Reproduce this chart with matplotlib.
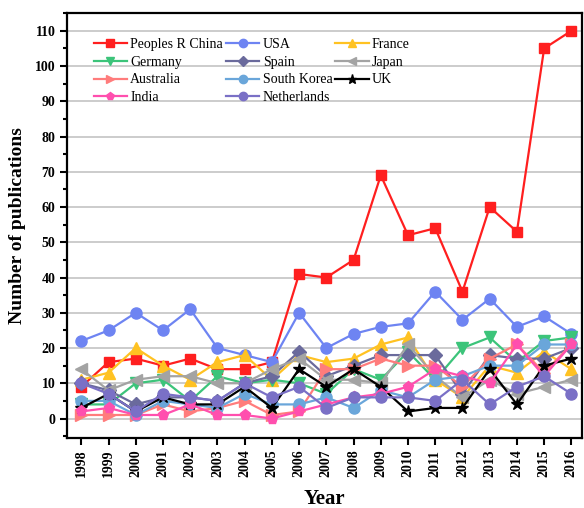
import numpy as np
import matplotlib
matplotlib.use("Agg")
from matplotlib import pyplot as plt
from matplotlib.ticker import MultipleLocator

# publications per country and year
years = list(range(1998, 2017))

china = [9, 16, 17, 15, 17, 14, 14, 16, 41, 40, 45, 69, 52, 54, 36, 60, 53, 105, 110]
usa = [22, 25, 30, 25, 31, 20, 18, 16, 30, 20, 24, 26, 27, 36, 28, 34, 26, 29, 24]
france = [11, 13, 20, 15, 11, 16, 18, 11, 18, 16, 17, 21, 23, 11, 6, 15, 13, 19, 14]
germany = [4, 4, 10, 11, 5, 12, 10, 11, 10, 7, 14, 11, 19, 11, 20, 23, 16, 22, 23]
spain = [10, 8, 4, 6, 6, 5, 10, 12, 19, 12, 15, 18, 18, 18, 7, 18, 17, 17, 20]
japan = [14, 8, 11, 12, 12, 10, 10, 14, 17, 11, 11, 10, 21, 12, 6, 11, 7, 9, 11]
australia = [1, 1, 1, 4, 2, 3, 5, 1, 2, 14, 14, 17, 15, 15, 9, 17, 21, 13, 21]
south_korea = [5, 5, 1, 5, 4, 3, 7, 4, 4, 6, 3, 8, 6, 11, 12, 15, 15, 21, 21]
uk = [3, 7, 2, 6, 4, 4, 9, 3, 14, 9, 14, 9, 2, 3, 3, 14, 4, 15, 17]
india = [2, 3, 1, 1, 4, 1, 1, 0, 2, 4, 6, 7, 9, 14, 12, 10, 21, 12, 21]
netherlands = [10, 7, 2, 7, 6, 5, 10, 6, 9, 3, 6, 6, 6, 5, 11, 4, 9, 12, 7]

series = [
    ("Peoples R China", china, "#ff1f1f", "s", 7),
    ("USA", usa, "#6e84f2", "o", 8),
    ("France", france, "#ffc222", "^", 8),
    ("Germany", germany, "#3cc47a", "v", 8),
    ("Spain", spain, "#6a6a9c", "D", 7),
    ("Japan", japan, "#a3a3a3", "<", 8),
    ("Australia", australia, "#ff7c7c", ">", 8),
    ("South Korea", south_korea, "#6aa6da", "o", 8),
    ("UK", uk, "black", "*", 9),
    ("India", india, "#ff4fae", "p", 8),
    ("Netherlands", netherlands, "#7a70c6", "o", 8),
]

plt.rcParams['font.family'] = ['Liberation Serif', 'DejaVu Serif']

fig = plt.figure(figsize=(5.84, 5.08), dpi=100)
ax = fig.add_axes([0.115, 0.138, 0.882, 0.836])

handles = {}
for name, vals, col, mk, ms in series:
    line, = ax.plot(years, vals, color=col, marker=mk, markersize=ms,
                    linewidth=1.6, label=name, zorder=3)
    handles[name] = line

ax.set_xlim(1997.48, 2016.4)
ax.set_ylim(-5.5, 115)
ax.set_xticks(years)
ax.set_xticklabels([str(y) for y in years], rotation=90, fontsize=10, fontweight='bold')
ax.yaxis.set_major_locator(MultipleLocator(10))
ax.yaxis.set_minor_locator(MultipleLocator(5))
for lab in ax.get_yticklabels():
    lab.set_fontweight('bold')
    lab.set_fontsize(10)
ax.tick_params(axis='both', which='both', direction='out', width=1.5)
ax.tick_params(axis='both', which='major', length=5)
ax.tick_params(axis='y', which='minor', length=3)
ax.grid(axis='y', color='#c4c4c4', linewidth=1.2, zorder=0)
ax.set_axisbelow(True)
for sp in ax.spines.values():
    sp.set_linewidth(1.6)

ax.set_xlabel("Year", fontsize=15, fontweight='bold', labelpad=8)
ax.set_ylabel("Number of publications", fontsize=14, fontweight='bold', labelpad=6)

order = ["Peoples R China", "Germany", "Australia", "India",
         "USA", "Spain", "South Korea", "Netherlands",
         "France", "Japan", "UK"]
ax.legend([handles[n] for n in order], order, ncol=3, loc='upper left',
          bbox_to_anchor=(0.035, 0.962), frameon=False, fontsize=10,
          handlelength=2.4, handletextpad=0.25, columnspacing=0.2,
          labelspacing=0.35, borderaxespad=0.2, markerscale=0.75)

fig.savefig("out.png", dpi=100)
